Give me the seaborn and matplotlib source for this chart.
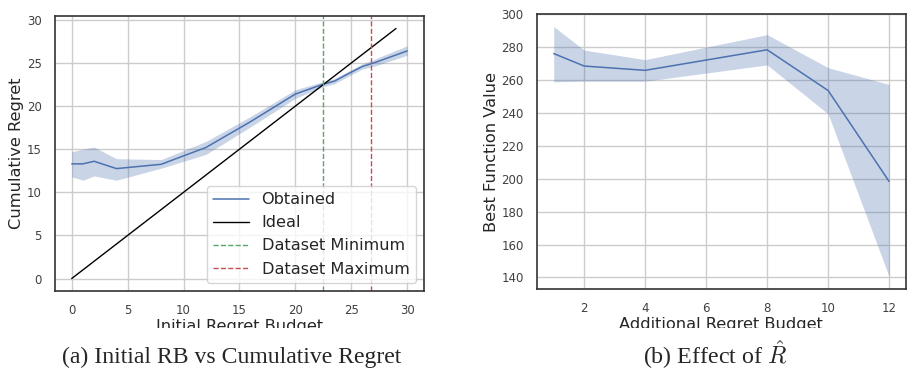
import numpy as np
import pandas as pd
import matplotlib
matplotlib.use("Agg")
import matplotlib.pyplot as plt
import seaborn as sns
from matplotlib.patches import Rectangle

# (a) initial regret budget vs cumulative regret
rb_x = [0, 1, 2, 4, 8, 12, 16, 20, 22.4, 23.5, 24.8, 26, 27, 30]
rb_mean = [13.3, 13.3, 13.6, 12.75, 13.25, 15.2, 18.2, 21.4, 22.5, 22.9, 23.8, 24.6, 25.0, 26.4]
rb_low = [11.8, 11.4, 11.9, 11.4, 12.8, 14.4, 17.6, 20.9, 22.2, 22.6, 23.5, 24.3, 24.6, 25.9]
rb_high = [14.7, 15.0, 15.25, 13.9, 13.8, 15.9, 18.8, 21.9, 22.8, 23.2, 24.1, 24.9, 25.4, 27.0]
ideal_x = [0, 29]
dataset_min = 22.45
dataset_max = 26.8

# (b) additional regret budget vs best function value
ar_x = [1, 2, 4, 8, 10, 12]
ar_mean = [276.2, 268.6, 266.0, 278.5, 253.7, 198.4]
ar_low = [259.0, 259.4, 259.4, 269.3, 239.5, 140.6]
ar_high = [292.6, 278.3, 272.5, 287.7, 267.6, 257.4]

sns.set_theme(style="whitegrid")
plt.rcParams["axes.edgecolor"] = "0.2"
plt.rcParams["axes.linewidth"] = 1.2
plt.rcParams["mathtext.fontset"] = "cm"

blue = "#4c72b0"
tick_fs = 8.5
label_fs = 11.7

fig = plt.figure(figsize=(9.07, 3.71), dpi=100)
ax1 = fig.add_axes([0.0606, 0.2156, 0.4068, 0.7412])
ax2 = fig.add_axes([0.592, 0.221, 0.4068, 0.741])

df1 = pd.DataFrame({"x": rb_x, "y": rb_mean})
sns.lineplot(data=df1, x="x", y="y", ax=ax1, color=blue, lw=1.1, label="Obtained")
ax1.fill_between(rb_x, rb_low, rb_high, color=blue, alpha=0.3, lw=0)
ax1.plot(ideal_x, ideal_x, color="black", lw=1.0, label="Ideal")
ax1.axvline(dataset_min, color="#55a868", ls="--", lw=1.0, label="Dataset Minimum")
ax1.axvline(dataset_max, color="#c44e52", ls="--", lw=1.0, label="Dataset Maximum")
ax1.set_xticks([0, 5, 10, 15, 20, 25, 30])
ax1.set_yticks([0, 5, 10, 15, 20, 25, 30])
ax1.set_xlabel("Initial Regret Budget", fontsize=label_fs, labelpad=1)
ax1.set_ylabel("Cumulative Regret", fontsize=label_fs, labelpad=2)
ax1.tick_params(labelsize=tick_fs, labelcolor="0.25")
ax1.legend(loc="lower right", fontsize=11.6, handlelength=2.2)

df2 = pd.DataFrame({"x": ar_x, "y": ar_mean})
sns.lineplot(data=df2, x="x", y="y", ax=ax2, color=blue, lw=1.1)
ax2.fill_between(ar_x, ar_low, ar_high, color=blue, alpha=0.3, lw=0)
ax2.set_xticks([2, 4, 6, 8, 10, 12])
ax2.set_yticks([140, 160, 180, 200, 220, 240, 260, 280, 300])
ax2.set_xlabel("Additional Regret Budget", fontsize=label_fs, labelpad=1)
ax2.set_ylabel("Best Function Value", fontsize=label_fs, labelpad=2)
ax2.tick_params(labelsize=tick_fs, labelcolor="0.25")

# the sub-figures were cropped just below the x labels
fig.patches.append(Rectangle((0, 0), 1, (371 - 328) / 371, transform=fig.transFigure,
                             facecolor="white", edgecolor="none", zorder=5))

fig.text(232 / 907, 1 - 357 / 371, "(a) Initial RB vs Cumulative Regret",
         family="Liberation Serif", fontsize=17.1, ha="center", va="center", zorder=6)
fig.text(715 / 907, 1 - 355 / 371, r"(b) Effect of $\hat{R}$",
         family="Liberation Serif", fontsize=17.3, ha="center", va="center", zorder=6)

fig.savefig("out.png", dpi=100)
